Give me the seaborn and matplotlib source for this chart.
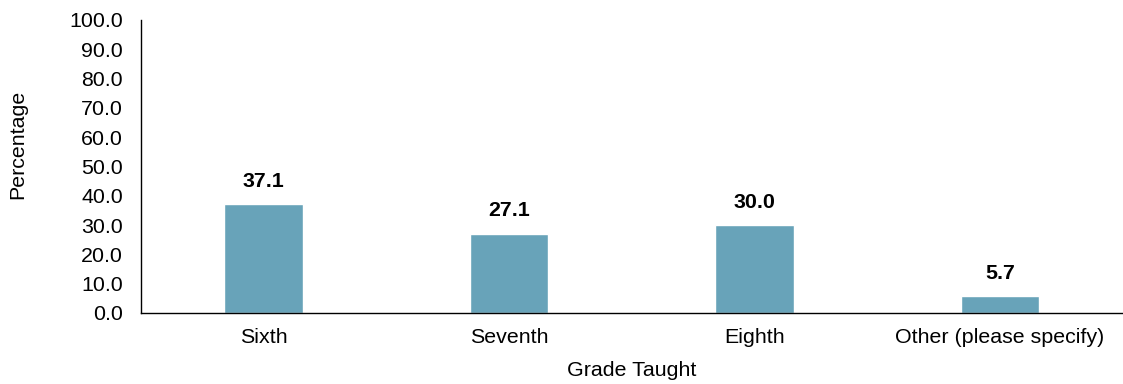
import matplotlib
matplotlib.use("Agg")
import matplotlib.pyplot as plt
import seaborn as sns
import pandas as pd

grades = ["Sixth", "Seventh", "Eighth", "Other (please specify)"]
percentages = [37.1, 27.1, 30.0, 5.7]
y_ticks = [0, 10, 20, 30, 40, 50, 60, 70, 80, 90, 100]

sns.set_style("white")
plt.rcParams["font.family"] = ["Liberation Sans", "DejaVu Sans"]
plt.rcParams["text.color"] = "black"
plt.rcParams["axes.labelcolor"] = "black"
plt.rcParams["xtick.color"] = "black"
plt.rcParams["ytick.color"] = "black"

df = pd.DataFrame({"grade": grades, "pct": percentages})

fig = plt.figure(figsize=(11.23, 3.84), dpi=100)
ax = fig.add_axes([0.1256, 0.185, 0.874, 0.763])

sns.barplot(data=df, x="grade", y="pct", color="#68A3B9", width=0.32,
            saturation=1, ax=ax)

for i, v in enumerate(percentages):
    ax.text(i, v + 4.5, f"{v:.1f}", ha="center", va="bottom",
            fontsize=15.4, fontweight="bold", color="black")

ax.set_ylim(0, 100)
ax.set_xlim(-0.5, 3.5)
ax.set_yticks(y_ticks)
ax.set_yticklabels([f"{t:.1f}" for t in y_ticks], fontsize=15.4)
ax.tick_params(axis="x", labelsize=15.4, length=0, pad=11)
ax.tick_params(axis="y", length=0, pad=13)
ax.set_xlabel("Grade Taught", fontsize=15.4, labelpad=10)
ax.set_ylabel("Percentage", fontsize=15.4, labelpad=30)
# label sits a bit above the axis middle in the original
ax.yaxis.label.set_y(0.577)

sns.despine(ax=ax)
ax.spines["left"].set_color("black")
ax.spines["bottom"].set_color("black")
ax.spines["left"].set_linewidth(1)
ax.spines["bottom"].set_linewidth(1)

fig.savefig("out.png", dpi=100)
